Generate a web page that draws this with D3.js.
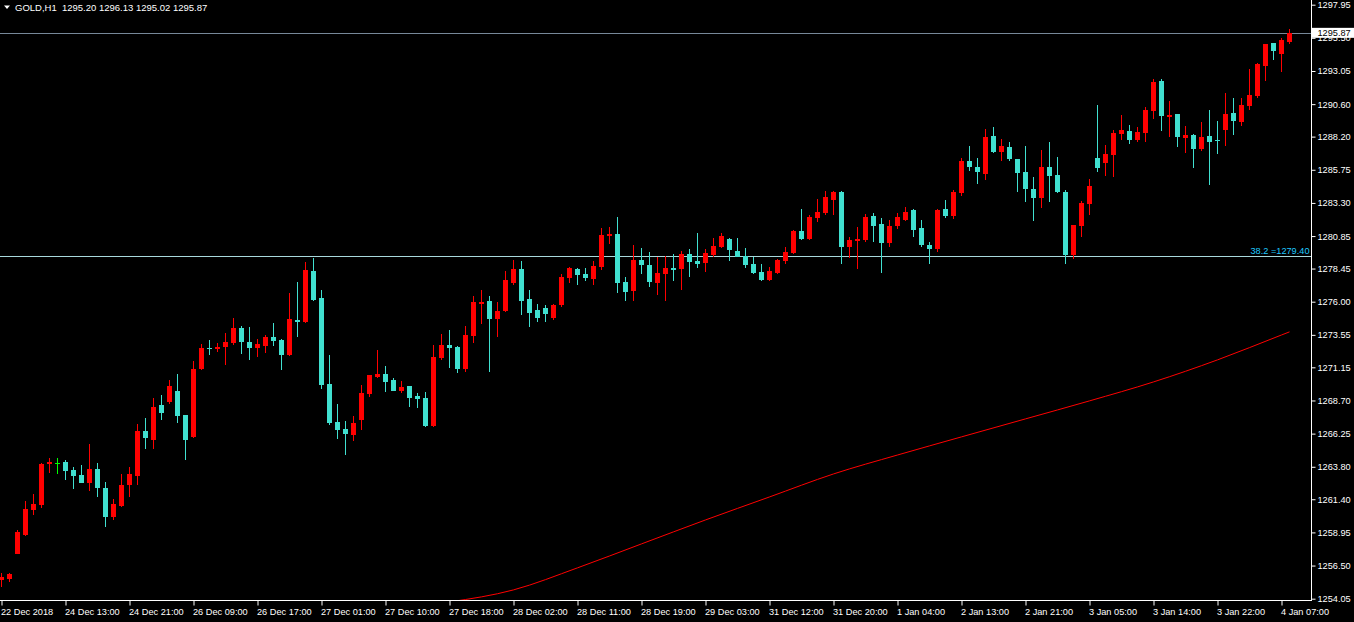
<!DOCTYPE html>
<html><head><meta charset="utf-8">
<script src="https://cdn.jsdelivr.net/npm/d3@7"></script>
<style>html,body{margin:0;padding:0;background:#000;overflow:hidden}svg{display:block}</style>
</head><body><svg id="c" width="1354" height="622"></svg>
<script>
const symbolTitle = "GOLD,H1  1295.20 1296.13 1295.02 1295.87";
const open = [1255.44,1255.51,1257.38,1258.76,1260.61,1260.98,1264.01,1264.11,1264.16,1263.57,1263.20,1262.61,1263.64,1262.24,1260.09,1260.91,1262.46,1263.12,1266.45,1265.78,1268.37,1268.59,1269.41,1267.63,1266.01,1271.03,1272.58,1272.51,1272.66,1272.95,1274.06,1273.03,1272.58,1272.73,1273.40,1273.17,1272.06,1274.65,1274.50,1278.27,1276.28,1269.92,1267.11,1266.60,1266.15,1267.26,1269.18,1270.44,1270.66,1270.22,1269.41,1269.77,1269.04,1268.89,1266.82,1271.84,1272.80,1272.66,1271.03,1273.47,1275.83,1276.06,1274.73,1275.32,1277.39,1278.42,1276.20,1275.39,1275.54,1274.80,1275.76,1277.76,1278.42,1278.05,1277.68,1278.57,1280.86,1281.01,1277.46,1276.80,1279.09,1278.72,1277.39,1278.05,1278.49,1278.42,1279.53,1279.01,1278.86,1279.46,1280.05,1280.64,1279.75,1279.38,1278.79,1278.20,1277.61,1278.13,1279.01,1279.60,1281.23,1280.64,1282.19,1282.56,1283.52,1284.11,1280.05,1280.49,1280.56,1282.34,1281.75,1280.34,1281.60,1282.04,1282.78,1281.45,1280.19,1279.90,1282.85,1282.34,1284.04,1286.40,1285.96,1285.44,1288.25,1287.07,1287.44,1286.55,1285.59,1284.33,1283.67,1285.96,1285.37,1284.11,1279.46,1281.60,1283.22,1286.62,1286.25,1286.84,1288.40,1288.62,1287.95,1288.47,1290.10,1292.31,1289.65,1289.87,1288.10,1288.32,1287.29,1288.25,1287.95,1288.69,1289.95,1289.28,1290.47,1291.21,1293.42,1295.12,1294.31,1295.20];
const high = [1255.96,1255.98,1259.13,1261.28,1261.79,1264.11,1264.46,1264.46,1264.31,1263.79,1263.94,1265.49,1264.08,1262.68,1261.42,1263.27,1263.79,1266.97,1267.41,1268.89,1269.11,1270.22,1270.66,1267.63,1271.62,1272.88,1273.17,1272.95,1273.69,1274.80,1274.21,1274.13,1273.25,1273.54,1274.43,1273.25,1276.65,1277.46,1278.94,1279.23,1276.87,1272.07,1268.44,1267.19,1267.56,1269.85,1270.59,1272.44,1271.25,1270.37,1270.14,1269.77,1269.26,1269.33,1272.80,1273.62,1273.91,1272.73,1274.21,1276.43,1276.87,1276.43,1275.98,1278.27,1279.09,1279.01,1276.87,1275.83,1275.76,1275.83,1278.05,1278.57,1278.49,1278.49,1279.01,1281.45,1281.52,1282.26,1277.83,1280.19,1279.97,1279.68,1279.31,1279.38,1279.53,1279.75,1279.90,1281.08,1279.90,1280.71,1281.08,1280.71,1280.71,1279.97,1279.31,1278.79,1278.57,1279.16,1280.05,1281.30,1282.85,1282.41,1283.59,1284.18,1284.18,1284.18,1280.79,1281.52,1282.48,1282.56,1282.19,1282.04,1282.56,1283.00,1282.85,1282.04,1280.42,1282.85,1283.52,1284.26,1286.62,1287.51,1286.62,1288.77,1288.91,1288.03,1287.81,1286.55,1287.51,1285.22,1287.22,1287.81,1286.70,1284.26,1281.67,1283.45,1285.07,1290.54,1287.58,1288.69,1289.80,1289.06,1288.91,1290.39,1292.46,1292.46,1290.83,1289.87,1288.99,1288.40,1289.28,1290.17,1289.36,1291.43,1291.06,1291.06,1293.20,1293.64,1295.05,1295.12,1295.49,1296.13];
const low = [1254.92,1255.29,1257.36,1258.69,1260.24,1260.78,1263.35,1263.27,1262.83,1262.16,1262.61,1262.02,1261.57,1259.35,1259.87,1260.83,1261.57,1262.46,1265.12,1265.12,1267.26,1268.44,1267.06,1264.31,1265.95,1270.96,1272.06,1272.29,1271.33,1272.80,1272.14,1271.70,1271.92,1272.21,1272.73,1270.96,1271.99,1273.40,1274.43,1276.06,1269.55,1266.89,1265.86,1264.67,1265.71,1266.52,1268.96,1270.37,1269.33,1269.41,1269.26,1268.22,1268.15,1266.74,1266.74,1271.70,1271.10,1270.73,1270.81,1272.95,1274.36,1270.81,1273.40,1275.24,1277.24,1275.02,1274.13,1274.50,1274.50,1274.65,1275.61,1277.39,1277.24,1277.53,1277.24,1278.35,1280.27,1276.65,1276.06,1276.06,1278.05,1277.09,1276.50,1276.06,1277.53,1276.87,1277.83,1278.49,1278.20,1279.31,1279.97,1279.01,1279.31,1278.49,1278.05,1277.53,1277.53,1278.05,1278.79,1279.53,1280.56,1280.56,1281.89,1282.41,1282.41,1278.79,1279.23,1278.42,1280.42,1280.42,1278.13,1280.05,1281.38,1281.97,1280.79,1280.05,1278.79,1279.68,1282.19,1282.12,1283.82,1285.66,1284.70,1285.00,1286.99,1286.40,1286.40,1284.11,1283.37,1281.97,1282.93,1283.37,1284.04,1278.79,1279.16,1280.79,1282.41,1285.59,1285.29,1285.22,1287.95,1287.66,1287.81,1287.81,1289.51,1288.62,1288.18,1287.44,1286.99,1285.88,1287.14,1284.63,1286.92,1287.51,1288.32,1288.99,1290.17,1291.06,1292.31,1293.87,1292.98,1295.02];
const close = [1255.66,1255.88,1259.01,1260.68,1261.05,1264.01,1264.16,1264.11,1263.49,1263.12,1262.61,1263.64,1262.24,1260.09,1261.05,1262.46,1263.27,1266.45,1265.93,1268.22,1267.78,1269.77,1267.58,1265.78,1271.03,1272.58,1272.51,1272.66,1273.03,1274.06,1273.03,1272.58,1272.88,1273.40,1273.10,1272.06,1274.73,1274.50,1278.35,1276.13,1269.85,1267.04,1266.52,1266.23,1267.04,1269.26,1270.59,1270.66,1270.07,1269.41,1269.70,1268.89,1268.81,1266.82,1271.92,1272.80,1272.58,1271.03,1273.54,1275.98,1275.98,1274.73,1275.32,1277.61,1278.42,1276.06,1275.17,1274.80,1275.10,1275.76,1277.83,1278.49,1277.98,1277.76,1278.64,1280.93,1281.01,1277.39,1276.72,1279.09,1278.72,1277.46,1278.13,1278.49,1278.35,1279.53,1278.94,1278.79,1279.60,1280.12,1280.86,1279.83,1279.31,1278.72,1278.13,1277.61,1278.27,1279.09,1279.68,1281.23,1280.64,1282.26,1282.63,1283.74,1284.11,1280.05,1280.56,1280.64,1282.26,1281.60,1280.34,1281.60,1282.26,1282.63,1281.30,1280.19,1279.90,1282.78,1282.34,1284.11,1286.40,1285.96,1285.59,1288.18,1287.07,1287.51,1286.55,1285.52,1284.33,1283.67,1285.96,1285.29,1284.11,1279.46,1281.67,1283.30,1284.55,1285.88,1286.92,1288.47,1288.69,1287.95,1288.55,1290.17,1292.24,1289.73,1289.80,1288.18,1288.32,1287.29,1288.18,1287.81,1287.88,1289.87,1289.36,1290.54,1291.28,1293.57,1295.05,1294.53,1295.34,1295.87];
const timeLabels = ["22 Dec 2018","24 Dec 13:00","24 Dec 21:00","26 Dec 09:00","26 Dec 17:00","27 Dec 01:00","27 Dec 10:00","27 Dec 18:00","28 Dec 02:00","28 Dec 11:00","28 Dec 19:00","29 Dec 03:00","31 Dec 12:00","31 Dec 20:00","1 Jan 04:00","2 Jan 13:00","2 Jan 21:00","3 Jan 05:00","3 Jan 14:00","3 Jan 22:00","4 Jan 07:00"];
const timeLabelBars = [0,8,16,24,32,40,48,56,64,72,80,88,96,104,112,120,128,136,144,152,160];
const priceTicks = [1297.95,1295.50,1293.05,1290.60,1288.20,1285.75,1283.30,1280.85,1278.45,1276.00,1273.55,1271.15,1268.70,1266.25,1263.80,1261.40,1258.95,1256.50,1254.05];
const maBars = [56,64,72,80,88,96,104,112,120,128,136,144,152,160,161];
const maValues = [1253.81,1254.70,1256.33,1258.10,1259.87,1261.57,1263.27,1264.67,1266.01,1267.34,1268.67,1270.07,1271.70,1273.54,1273.77];
const bidPrice = 1295.87;
const fibPrice = 1279.40;
const fibText = "38.2 =1279.40";

const W = 1354, H = 622, axisX = 1311.5, axisY = 600.5;
const FONT = "'Liberation Sans', Arial, sans-serif";
const svg = d3.select("#c");
svg.append("rect").attr("width", W).attr("height", H).attr("fill", "#000");

const x = d3.scalePoint().domain(d3.range(open.length)).range([1.5, 1.5 + 8 * (open.length - 1)]);
const y = d3.scaleLinear().domain([1254.05, 1297.95]).range([598.7, 4.7]);

svg.append("defs").append("clipPath").attr("id", "plot")
  .append("rect").attr("x", 0).attr("y", 0).attr("width", axisX).attr("height", axisY);
const plot = svg.append("g").attr("clip-path", "url(#plot)");

// horizontal lines
plot.append("line").attr("x1", 0).attr("x2", axisX).attr("y1", Math.round(y(fibPrice)) + 0.5).attr("y2", Math.round(y(fibPrice)) + 0.5)
  .attr("stroke", "#a8d8dc").attr("stroke-width", 1);
plot.append("line").attr("x1", 0).attr("x2", axisX).attr("y1", Math.round(y(bidPrice)) + 0.5).attr("y2", Math.round(y(bidPrice)) + 0.5)
  .attr("stroke", "#778899").attr("stroke-width", 1);

// moving average
const maData = maBars.map((b, k) => [b, maValues[k]]);
plot.append("path").datum(maData)
  .attr("fill", "none").attr("stroke", "#ff0000").attr("stroke-width", 1)
  .attr("d", d3.line().x(d => x(d[0])).y(d => y(d[1])).curve(d3.curveMonotoneX));

// candles
const colorOf = i => close[i] > open[i] ? "#ff0000" : (close[i] < open[i] ? "#40e0d0" : "#00ff00");
const idx = d3.range(open.length);
const cg = plot.append("g").attr("shape-rendering", "crispEdges");
cg.selectAll("line.w").data(idx).join("line").attr("class", "w")
  .attr("x1", i => x(i)).attr("x2", i => x(i))
  .attr("y1", i => y(high[i])).attr("y2", i => y(low[i]))
  .attr("stroke", colorOf).attr("stroke-width", 1);
cg.selectAll("rect.b").data(idx).join("rect").attr("class", "b")
  .attr("x", i => x(i) - 2.5).attr("width", 5)
  .attr("y", i => y(Math.max(open[i], close[i])))
  .attr("height", i => Math.max(1, y(Math.min(open[i], close[i])) - y(Math.max(open[i], close[i]))))
  .attr("fill", colorOf);

// fib label
svg.append("text").attr("x", axisX - 2).attr("y", Math.round(y(fibPrice)) - 2.5)
  .attr("text-anchor", "end").attr("fill", "#1ec8ff").attr("font-family", FONT).attr("font-size", "9.2px")
  .text(fibText);

// axes frame
svg.append("line").attr("x1", axisX).attr("x2", axisX).attr("y1", 0).attr("y2", axisY + 0.5).attr("stroke", "#fff");
svg.append("line").attr("x1", 0).attr("x2", axisX).attr("y1", axisY).attr("y2", axisY).attr("stroke", "#fff");

// right price axis
const ya = svg.append("g").attr("transform", `translate(${axisX},0)`)
  .call(d3.axisRight(y).tickValues(priceTicks).tickFormat(d3.format(".2f")).tickSize(4).tickPadding(2));
ya.select(".domain").remove();
ya.selectAll("line").attr("stroke", "#fff");
ya.selectAll("text").attr("fill", "#fff").attr("font-family", FONT).attr("font-size", "9.2px");

// bottom time axis
const xa = svg.append("g").attr("transform", `translate(0,${axisY})`)
  .call(d3.axisBottom(x).tickValues(timeLabelBars).tickFormat((d, k) => timeLabels[k]).tickSize(5));
xa.select(".domain").remove();
xa.selectAll("line").attr("stroke", "#fff");
xa.selectAll("text").attr("fill", "#fff").attr("font-family", FONT).attr("font-size", "9.2px")
  .attr("text-anchor", "start").attr("dx", "-1px").attr("y", 14.5).attr("dy", 0);

// bid price label on axis
const bidY = y(bidPrice);
svg.append("rect").attr("x", axisX + 0.5).attr("y", bidY - 5).attr("width", W - axisX).attr("height", 10).attr("fill", "#fff");
svg.append("text").attr("x", axisX + 6).attr("y", bidY + 3.4).attr("fill", "#000")
  .attr("font-family", FONT).attr("font-size", "9.2px").text(d3.format(".2f")(bidPrice));

// header
svg.append("path").attr("d", "M4,5.5 L10,5.5 L7,9 Z").attr("fill", "#fff");
svg.append("text").attr("x", 15).attr("y", 11).attr("fill", "#fff").attr("font-family", FONT)
  .attr("font-size", "9.5px").attr("xml:space", "preserve").style("white-space", "pre").text(symbolTitle);
</script>
</body></html>
